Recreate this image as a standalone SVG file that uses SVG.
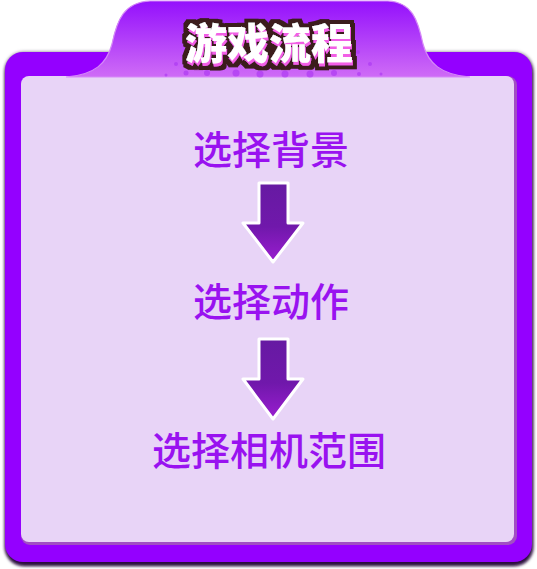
<svg xmlns="http://www.w3.org/2000/svg" width="537" height="569" viewBox="0 0 537 569">
  <style>
    .step { font-family: "Noto Sans CJK SC", "Noto Sans", sans-serif; font-size: 39px; font-weight: 500; fill: #9912f0; text-anchor: middle; }
    .title { font-family: "Noto Sans CJK SC", "Noto Sans", sans-serif; font-size: 42px; font-weight: 900; text-anchor: middle; fill: #ffffff; }
    .arrow { fill: url(#arrowGrad); stroke: #ffffff; stroke-width: 3; stroke-linejoin: round; }
    .dot { fill: #a933f2; opacity: 0.6; }
  </style>
  <defs>
    <linearGradient id="tabGrad" x1="0" y1="0" x2="0" y2="1">
      <stop offset="0" stop-color="#9410fc"/>
      <stop offset="1" stop-color="#cf6cf6"/>
    </linearGradient>
    <linearGradient id="arrowGrad" x1="0" y1="0" x2="0" y2="1">
      <stop offset="0" stop-color="#661aa2"/>
      <stop offset="0.55" stop-color="#7018ab"/>
      <stop offset="1" stop-color="#9a1dd0"/>
    </linearGradient>
    <filter id="shadow" x="-5%" y="-5%" width="110%" height="115%">
      <feGaussianBlur stdDeviation="1.5"/>
    </filter>
    <filter id="titleFx" x="-20%" y="-40%" width="140%" height="180%">
      <feOffset in="SourceAlpha" dx="1" dy="2.5" result="off"/>
      <feMerge result="both">
        <feMergeNode in="SourceAlpha"/>
        <feMergeNode in="off"/>
      </feMerge>
      <feMorphology in="both" operator="dilate" radius="4" result="thick"/>
      <feFlood flood-color="#3b1b1e"/>
      <feComposite in2="thick" operator="in" result="outline"/>
      <feFlood flood-color="#f25ee6"/>
      <feComposite in2="off" operator="in" result="pink"/>
      <feMerge>
        <feMergeNode in="outline"/>
        <feMergeNode in="pink"/>
        <feMergeNode in="SourceGraphic"/>
      </feMerge>
    </filter>
  </defs>

  <g id="frame">
    <rect x="4" y="51" width="530" height="515" rx="20" fill="#b9b3bd" filter="url(#shadow)"/>
    <rect x="5" y="54" width="528" height="512" rx="19" fill="#2a0a3e" filter="url(#shadow)"/>
    <rect x="5" y="52" width="527" height="510" rx="18" fill="#9400ff"/>
    <rect x="21" y="76" width="496" height="469" rx="9" fill="#a14fc3"/>
    <rect x="21" y="76" width="493" height="466" rx="8" fill="#e8d4f7"/>
  </g>

  <g id="title-tab">
    <path d="M 66 77 C 95 75, 107 63, 112 44 C 117 20, 124 2, 150 1 L 388 1 C 412 2, 418 20, 423 44 C 428 63, 441 75, 470 77 Z" fill="url(#tabGrad)" stroke="#d58af7" stroke-width="1.2"/>
    <g id="dots">
      <circle class="dot" cx="166" cy="75" r="1.5"/>
      <circle class="dot" cx="176" cy="64" r="2"/>
      <circle class="dot" cx="186" cy="73" r="2.5"/>
      <circle class="dot" cx="197" cy="60" r="2.5"/>
      <circle class="dot" cx="207" cy="73" r="3"/>
      <circle class="dot" cx="222" cy="64" r="3"/>
      <circle class="dot" cx="236" cy="73" r="3.5"/>
      <circle class="dot" cx="248" cy="64" r="3.5"/>
      <circle class="dot" cx="260" cy="74" r="3.5"/>
      <circle class="dot" cx="273" cy="65" r="3.5"/>
      <circle class="dot" cx="285" cy="74" r="3.5"/>
      <circle class="dot" cx="297" cy="65" r="3.5"/>
      <circle class="dot" cx="310" cy="74" r="3.5"/>
      <circle class="dot" cx="322" cy="64" r="3"/>
      <circle class="dot" cx="334" cy="73" r="3"/>
      <circle class="dot" cx="347" cy="64" r="2.5"/>
      <circle class="dot" cx="358" cy="52" r="2"/>
      <circle class="dot" cx="359" cy="74" r="2"/>
      <circle class="dot" cx="370" cy="64" r="2"/>
      <circle class="dot" cx="381" cy="74" r="1.5"/>
    </g>
    <text class="title" x="269" y="59" filter="url(#titleFx)">游戏流程</text>
  </g>

  <g id="step1">
    <text class="step" x="271" y="164">选择背景</text>
  </g>
  <g id="step2">
    <text class="step" x="271" y="316">选择动作</text>
  </g>
  <g id="step3">
    <text class="step" x="269" y="465">选择相机范围</text>
  </g>

  <g id="connectors">
    <path class="arrow" d="M 259 183 L 288 183 L 288 223 L 303 223 L 273 262 L 243 223 L 259 223 Z"/>
    <path class="arrow" d="M 259 339 L 288 339 L 288 379 L 303 379 L 273 419 L 243 379 L 259 379 Z"/>
  </g>
</svg>
